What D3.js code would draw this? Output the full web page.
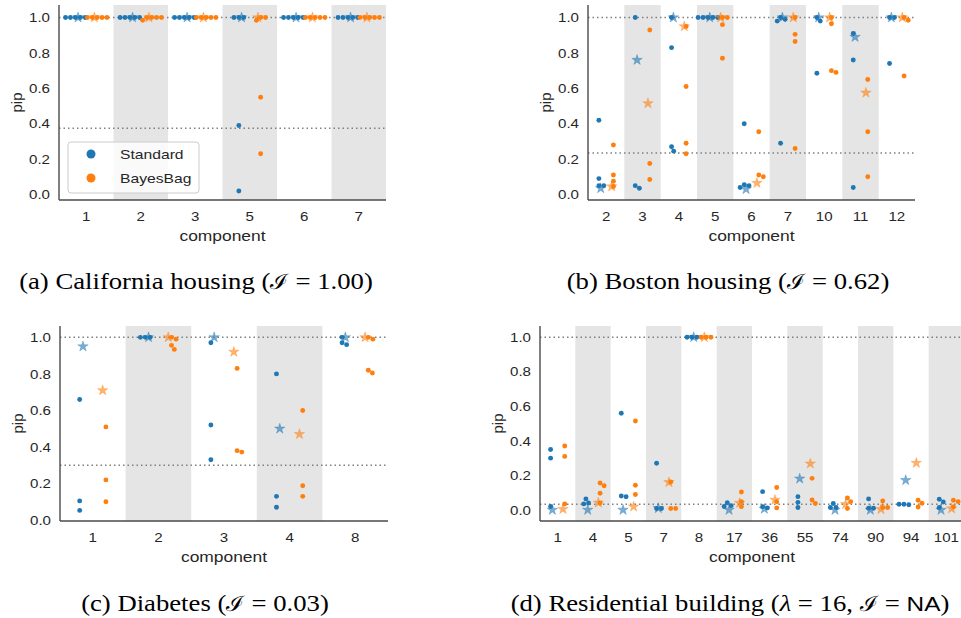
<!DOCTYPE html>
<html><head><meta charset="utf-8">
<script src="https://cdn.jsdelivr.net/npm/d3@7"></script>
<style>body{margin:0;background:#fff} svg{display:block}</style>
</head><body><svg id="c" width="961" height="618"></svg>
<script>
// ---------- (a) California housing ----------
const caCategories = ["1","2","3","5","6","7"];
const caStandard = [[1,1,1,1,1],[1,1,1,1,1],[1,1,1,1,1],[1,1,1,0.39,0.02],[1,1,1,1,1],[1,1,1,1,1]];
const caBayesBag = [[1,1,1,1,1],[1,1,1,1,0.985],[1,1,1,1,1],[1,1,0.985,0.55,0.23],[1,1,1,1,1],[1,1,1,1,1]];
const caStandardStar = [1,1,1,1,1,1];
const caBayesBagStar = [1,1,1,1,1,1];
const caThreshold = 0.375;

// ---------- (b) Boston housing ----------
const bhCategories = ["2","3","4","5","6","7","10","11","12"];
const bhStandard = [[0.42,0.09,0.05,0.05],[1.0,0.05,0.035],[1.0,0.83,0.27,0.245],[1,1,1,1,1],
  [0.40,0.055,0.05,0.04],[1.0,0.99,0.98,0.29],[1.0,0.98,0.685],[0.91,0.76,0.04],[1.0,1.0,0.74]];
const bhBayesBag = [[0.28,0.11,0.075,0.045],[0.93,0.175,0.085],[0.95,0.61,0.29,0.23],[1,1,0.96,0.77],
  [0.355,0.11,0.10],[1.0,0.905,0.865,0.26],[1.0,0.965,0.70,0.69],[0.65,0.355,0.10],[1.0,0.985,0.67]];
const bhStandardStar = [0.035,0.76,1.0,1.0,0.03,1.0,1.0,0.89,1.0];
const bhBayesBagStar = [0.045,0.515,0.95,1.0,0.065,1.0,1.0,0.575,1.0];
const bhThreshold = 0.234;

// ---------- (c) Diabetes ----------
const dbCategories = ["1","2","3","4","8"];
const dbStandard = [[0.66,0.105,0.053],[1,1,1],[0.97,0.52,0.33],[0.80,0.13,0.07],[1.0,0.97,0.96]];
const dbBayesBag = [[0.51,0.22,0.10],[1.0,0.99,0.956,0.934],[0.83,0.38,0.372],[0.60,0.188,0.13],[1.0,0.99,0.82,0.805]];
const dbStandardStar = [0.95,1.0,1.0,0.50,1.0];
const dbBayesBagStar = [0.71,1.0,0.92,0.47,1.0];
const dbThreshold = 0.30;

// ---------- (d) Residential building ----------
const rbCategories = ["1","4","5","7","8","17","36","55","74","90","94","101"];
const rbStandard = [[0.35,0.30,0.02],[0.064,0.04,0.035],[0.56,0.081,0.076],[0.27,0.008,0.008],[1,1,1],
  [0.042,0.025,0.02],[0.106,0.019,0.012],[0.077,0.044,0.014],[0.037,0.014,0.014],[0.064,0.01,0.01],
  [0.033,0.03,0.033],[0.062,0.046,0.014]];
const rbBayesBag = [[0.37,0.31,0.035],[0.156,0.14,0.097,0.04],[0.515,0.143,0.089],[0.162,0.008,0.008],[1,1,1],
  [0.104,0.048,0.019],[0.13,0.048,0.012],[0.183,0.058,0.037],[0.069,0.048,0.008],[0.052,0.014,0.014],
  [0.056,0.039,0.017],[0.056,0.048,0.017]];
const rbStandardStar = [0.0,0.0,0.0,0.01,1.0,0.0,0.006,0.181,0.0,0.0,0.172,0.0];
const rbBayesBagStar = [0.005,0.042,0.019,0.16,1.0,0.04,0.058,0.268,0.033,0.004,0.272,0.008];
const rbThreshold = 0.033;

const yTicks = [0, 0.2, 0.4, 0.6, 0.8, 1.0];
const seriesNames = ["Standard", "BayesBag"];
const colors = ["#1f77b4", "#ff7f0e"];

const SX = 1.16; // horizontal stretch of the reference's text
const SANS = "'Liberation Sans', Arial, sans-serif";
const SERIF = "'Liberation Serif', 'Times New Roman', serif";

const panels = [
  {x0:59, x1:386, y0:5, y1:200, dom:[-0.031,1.071], cats:caCategories, std:caStandard, bag:caBayesBag,
   stdStar:caStandardStar, bagStar:caBayesBagStar, thr:caThreshold, legend:true,
   cap:[["(a) California housing (",null],["ℐ","I"],[" = 1.00)",null]], capX:196, capY:289},
  {x0:588, x1:915, y0:5, y1:200, dom:[-0.031,1.071], cats:bhCategories, std:bhStandard, bag:bhBayesBag,
   stdStar:bhStandardStar, bagStar:bhBayesBagStar, thr:bhThreshold,
   cap:[["(b) Boston housing (",null],["ℐ","I"],[" = 0.62)",null]], capX:728, capY:289},
  {x0:60, x1:388, y0:326, y1:521, dom:[-0.005,1.062], cats:dbCategories, std:dbStandard, bag:dbBayesBag,
   stdStar:dbStandardStar, bagStar:dbBayesBagStar, thr:dbThreshold,
   cap:[["(c) Diabetes (",null],["ℐ","I"],[" = 0.03)",null]], capX:205, capY:611},
  {x0:540, x1:964, y0:326, y1:521, dom:[-0.064,1.065], cats:rbCategories, std:rbStandard, bag:rbBayesBag,
   stdStar:rbStandardStar, bagStar:rbBayesBagStar, thr:rbThreshold,
   cap:[["(d) Residential building (",null],["λ","L"],[" = 16, ",null],["ℐ","I"],[" = ",null],["NA","S"],[")",null]], capX:730, capY:611}
];

const svg = d3.select("#c");

function swarm(vals, y, d) {
  const placed = [];
  vals.forEach(v => {
    const p = {v, y: y(v), x: 0};
    const cands = [0];
    placed.forEach(q => {
      const dy = p.y - q.y;
      if (Math.abs(dy) < d) { const dx = Math.sqrt(d*d - dy*dy); cands.push(q.x + dx, q.x - dx); }
    });
    cands.sort((a,b) => Math.abs(a) - Math.abs(b) || b - a);
    for (const c of cands) {
      if (placed.every(q => (c-q.x)*(c-q.x) + (p.y-q.y)*(p.y-q.y) >= d*d - 1e-6)) { p.x = c; break; }
    }
    placed.push(p);
  });
  return placed;
}

const star = d3.symbol().type(d3.symbolStar).size(34);

panels.forEach(P => {
  const g = svg.append("g");
  const x = d3.scaleBand().domain(P.cats).range([P.x0, P.x1]).padding(0);
  const y = d3.scaleLinear().domain(P.dom).range([P.y1, P.y0]);
  const bw = x.bandwidth();

  // alternating gray bands
  g.append("g").selectAll("rect").data(P.cats.filter((c,i) => i % 2 === 1)).join("rect")
    .attr("x", d => x(d)).attr("width", bw).attr("y", P.y0).attr("height", P.y1 - P.y0)
    .attr("fill", "#e5e5e5");

  // dotted reference lines
  g.append("g").selectAll("line").data([1.0, P.thr]).join("line")
    .attr("x1", P.x0).attr("x2", P.x1).attr("y1", d => y(d)).attr("y2", d => y(d))
    .attr("stroke", "#808080").attr("stroke-width", 1.5).attr("stroke-dasharray", "1.5,3");

  // swarm dots
  [P.std, P.bag].forEach((series, si) => {
    const off = (si === 0 ? -0.2 : 0.2) * bw;
    series.forEach((vals, ci) => {
      const cx = x(P.cats[ci]) + bw/2 + off;
      const pts = swarm(vals, y, 4.9);
      g.append("g").selectAll("circle").data(pts).join("circle")
        .attr("cx", d => cx + d.x).attr("cy", d => d.y).attr("r", 2.45)
        .attr("fill", colors[si]);
    });
  });
  // stars
  [P.stdStar, P.bagStar].forEach((vals, si) => {
    const off = (si === 0 ? -0.15 : 0.15) * bw;
    g.append("g").selectAll("path").data(vals).join("path")
      .attr("d", star)
      .attr("transform", (d,i) => `translate(${x(P.cats[i]) + bw/2 + off},${y(d)})`)
      .attr("fill", colors[si]).attr("fill-opacity", 0.6)
      .attr("stroke", colors[si]).attr("stroke-opacity", 0.5).attr("stroke-width", 0.6);
  });

  // axes
  const ya = g.append("g").attr("transform", `translate(${P.x0},0)`)
    .call(d3.axisLeft(y).tickValues(yTicks).tickFormat(d3.format(".1f")).tickSize(0).tickPadding(9));
  const xa = g.append("g").attr("transform", `translate(0,${P.y1})`)
    .call(d3.axisBottom(x).tickSize(0).tickPadding(12));
  [ya, xa].forEach(a => {
    a.select(".domain").attr("stroke", "#4a4a4a").attr("stroke-width", 1.4);
    a.selectAll("text").attr("font-family", SANS).attr("font-size", 13).attr("fill", "#262626").classed("sx", true);
  });
  ya.select(".domain").attr("d", `M0,${P.y1}V${P.y0}`);
  xa.select(".domain").attr("d", `M${P.x0},0H${P.x1}`);

  // axis labels
  g.append("text").attr("x", (P.x0 + P.x1)/2).attr("y", P.y1 + 41).attr("text-anchor", "middle")
    .attr("font-family", SANS).attr("font-size", 15).attr("fill", "#262626").classed("sx", true)
    .text("component");
  g.append("text").attr("transform", `translate(${P.x0 - 37},${(P.y0 + P.y1)/2}) rotate(-90)`)
    .attr("text-anchor", "middle").attr("font-family", SANS).attr("font-size", 15).attr("fill", "#262626")
    .text("pip");

  // caption
  const cap = g.append("text").attr("x", P.capX).attr("y", P.capY).attr("text-anchor", "middle")
    .attr("font-family", SERIF).attr("font-size", 23).attr("fill", "#000").classed("sx", true);
  P.cap.forEach(([t, kind]) => {
    const ts = cap.append("tspan").text(t);
    if (kind === "I") ts.attr("font-family", "'DejaVu Serif', serif").attr("font-size", 21);
    if (kind === "L") ts.attr("font-style", "italic");
    if (kind === "S") ts.attr("font-family", SANS).attr("font-size", 21);
  });

  // legend
  if (P.legend) {
    const lg = g.append("g");
    lg.append("rect").attr("x", 68).attr("y", 142).attr("width", 131).attr("height", 51).attr("rx", 3)
      .attr("fill", "#fff").attr("fill-opacity", 0.8).attr("stroke", "#cccccc").attr("stroke-width", 1);
    seriesNames.forEach((n, i) => {
      lg.append("circle").attr("cx", 91).attr("cy", 154 + i*24).attr("r", 4.5).attr("fill", colors[i]);
      lg.append("text").attr("x", 120).attr("y", 159 + i*24).attr("font-family", SANS).attr("font-size", 13.5)
        .attr("fill", "#262626").classed("sx", true).text(n);
    });
  }
});

// reproduce the horizontal stretch seen in the reference's lettering
svg.selectAll("text.sx").each(function() {
  const L = this.getComputedTextLength();
  this.setAttribute("textLength", (L * SX).toFixed(2));
  this.setAttribute("lengthAdjust", "spacingAndGlyphs");
});
</script></body></html>
